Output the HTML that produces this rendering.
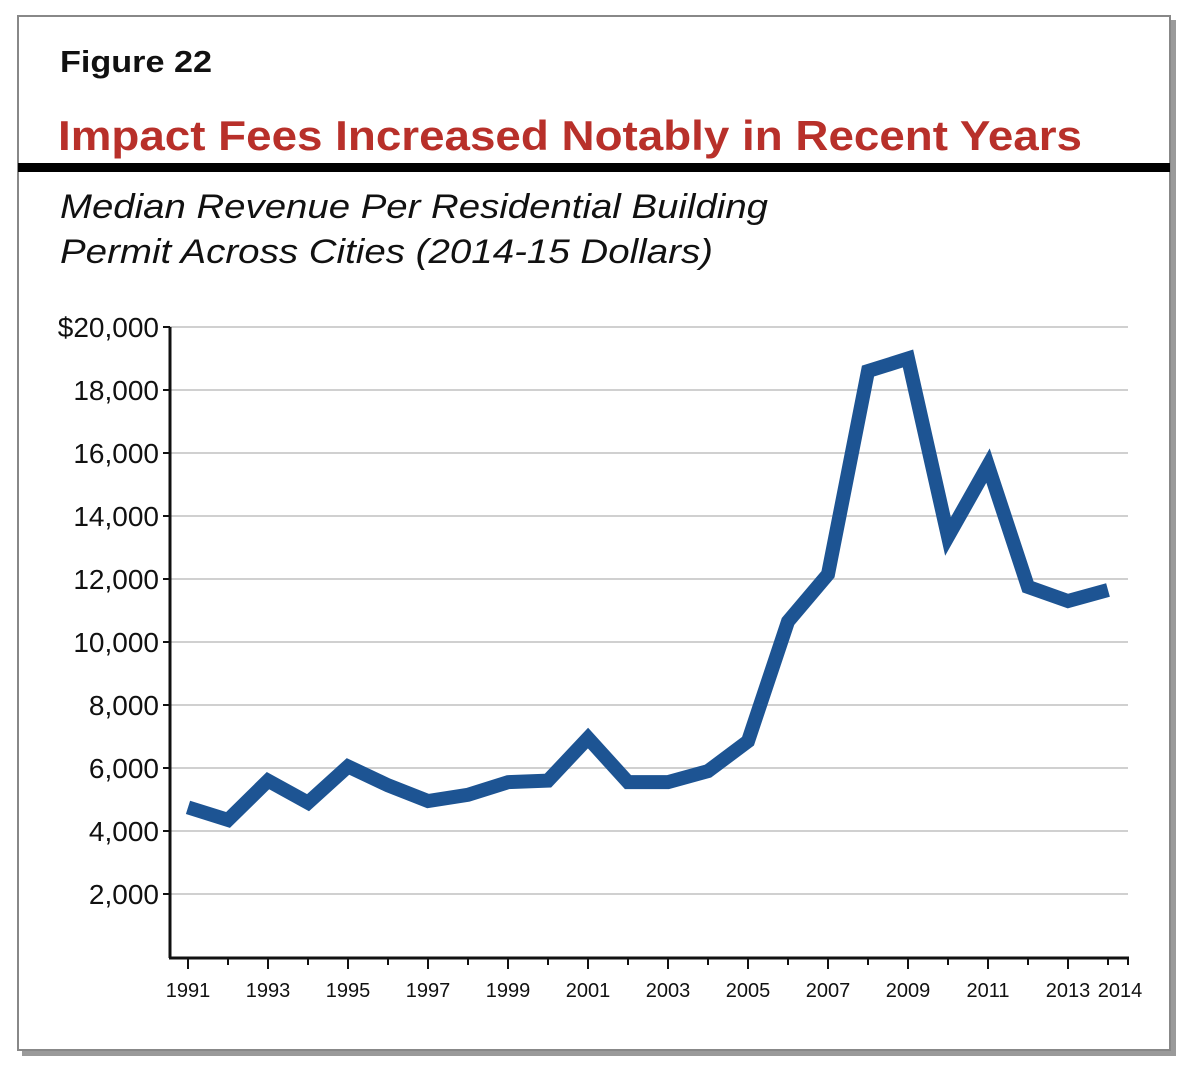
<!DOCTYPE html>
<html><head><meta charset="utf-8"><style>
body{margin:0;width:1200px;height:1073px;background:#fff;overflow:hidden}
svg text{font-family:"Liberation Sans",Arial,sans-serif}
</style></head><body>
<svg width="1200" height="1073">
<rect x="22" y="20" width="1154" height="1036" fill="#9a9a9a"/>
<rect x="18" y="16" width="1152" height="1034" fill="#fff" stroke="#888" stroke-width="2"/>
<text x="60" y="72" font-size="31" font-weight="bold" fill="#111" textLength="152" lengthAdjust="spacingAndGlyphs">Figure 22</text>
<text x="58" y="150" font-size="42" font-weight="bold" fill="#b8302a" textLength="1024" lengthAdjust="spacingAndGlyphs">Impact Fees Increased Notably in Recent Years</text>
<rect x="18" y="163" width="1152" height="9" fill="#000"/>
<text x="60" y="218" font-size="34" font-style="italic" fill="#111" textLength="708" lengthAdjust="spacingAndGlyphs">Median Revenue Per Residential Building</text>
<text x="60" y="263" font-size="34" font-style="italic" fill="#111" textLength="653" lengthAdjust="spacingAndGlyphs">Permit Across Cities (2014-15 Dollars)</text>
<g id="grid"></g><g id="axes"></g><g id="series"></g>
</svg>
<script>
const years=[1991,1992,1993,1994,1995,1996,1997,1998,1999,2000,2001,2002,2003,2004,2005,2006,2007,2008,2009,2010,2011,2012,2013,2014];
const values=[4750,4350,5600,4900,6050,5450,4950,5150,5550,5600,6950,5550,5550,5900,6850,10650,12150,18600,19000,13350,15600,11750,11300,11650];
const yTicks=[2000,4000,6000,8000,10000,12000,14000,16000,18000,20000];
const xLabels=[1991,1993,1995,1997,1999,2001,2003,2005,2007,2009,2011,2013];
const NS="http://www.w3.org/2000/svg";
const X=y=>188+(y-1991)*40;
const Y=v=>957-v*0.0315;
function mk(tag,attrs,parent,txt){const e=document.createElementNS(NS,tag);for(const k in attrs)e.setAttribute(k,attrs[k]);if(txt!==undefined)e.textContent=txt;document.getElementById(parent).appendChild(e);return e;}
yTicks.forEach(v=>{
 const g=mk('line',{x1:170,x2:1128,y1:Y(v),y2:Y(v),stroke:'#d0d0d0','stroke-width':2},'grid');
 
 
 const t=mk('line',{x1:163,x2:170,y1:Y(v),y2:Y(v),stroke:'#111','stroke-width':2},'axes');
 
 
 const l=mk('text',{x:159,y:Y(v)+10,'font-size':28,'text-anchor':'end',fill:'#111'},'axes',(v===20000?'$':'')+v.toLocaleString('en-US'));
 
 
});
const ya=mk('line',{x1:170,x2:170,y1:Y(20000),y2:958,stroke:'#111','stroke-width':3},'axes');


const xa=mk('line',{x1:169,x2:1129,y1:958,y2:958,stroke:'#111','stroke-width':3},'axes');


years.forEach(y=>{
 const major=(y-1991)%2===0;
 const t=mk('line',{x1:X(y),x2:X(y),y1:958,y2:major?969:965,stroke:'#111','stroke-width':2},'axes');
 
 
});
const et=mk('line',{x1:1128,x2:1128,y1:958,y2:965,stroke:'#111','stroke-width':2},'axes');


xLabels.forEach(y=>{
 const l=mk('text',{x:X(y),y:997,'font-size':20,'text-anchor':'middle',fill:'#111'},'axes',String(y));
 
 
});
const l14=mk('text',{x:X(2014)+12,y:997,'font-size':20,'text-anchor':'middle',fill:'#111'},'axes','2014');


const p=mk('polyline',{points:years.map((y,i)=>X(y)+','+Y(values[i])).join(' '),fill:'none',stroke:'#1d5493','stroke-width':14,'stroke-linejoin':'miter','stroke-miterlimit':3},'series');


</script>
</body></html>
